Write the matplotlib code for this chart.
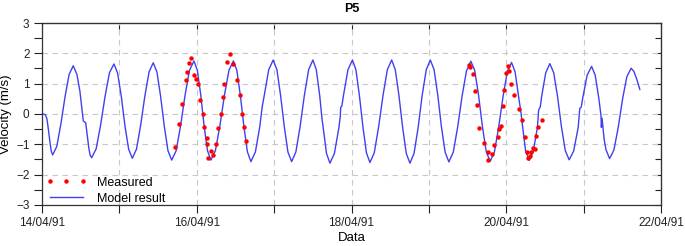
import matplotlib
matplotlib.use("Agg")
import matplotlib.pyplot as plt
import matplotlib.dates as mdates
from matplotlib.ticker import FixedLocator, MultipleLocator, NullFormatter
from datetime import datetime

plt.rcParams['font.family'] = ['Liberation Sans', 'DejaVu Sans']

# time in days after 14/04/91 00:00, velocity in m/s
model_days = [
    0.017, 0.045, 0.064, 0.082, 0.101, 0.119, 0.138,
    0.191, 0.244, 0.298, 0.351, 0.404,
    0.452, 0.490, 0.526, 0.534, 0.565, 0.585, 0.605, 0.622, 0.642,
    0.700, 0.757, 0.815, 0.872, 0.930,
    0.977, 1.025, 1.072, 1.120, 1.167,
    1.221, 1.275, 1.330, 1.384, 1.438,
    1.486, 1.533, 1.581, 1.628, 1.676,
    1.734, 1.791, 1.849, 1.906, 1.964,
    2.008, 2.052, 2.095, 2.139, 2.183,
    2.241, 2.299, 2.358, 2.416, 2.474,
    2.519, 2.564, 2.610, 2.655, 2.700,
    2.758, 2.815, 2.840, 2.846, 2.873, 2.930, 2.988,
    3.036, 3.083, 3.131, 3.178, 3.226,
    3.281, 3.336, 3.391, 3.446, 3.501,
    3.545, 3.589, 3.620, 3.627, 3.677, 3.721,
    3.779, 3.837, 3.855, 3.860, 3.875, 3.896, 3.954, 4.012,
    4.057, 4.102, 4.148, 4.193, 4.238,
    4.294, 4.350, 4.407, 4.463, 4.519,
    4.566, 4.613, 4.661, 4.708, 4.755,
    4.808, 4.861, 4.913, 4.966, 5.019,
    5.067, 5.115, 5.162, 5.210, 5.258,
    5.315, 5.372, 5.429, 5.486, 5.543,
    5.593, 5.643, 5.692, 5.742, 5.792,
    5.847, 5.902, 5.958, 6.013, 6.068,
    6.114, 6.159, 6.190, 6.198, 6.250, 6.296,
    6.349, 6.403, 6.418, 6.440, 6.456, 6.510, 6.563,
    6.613, 6.663, 6.713, 6.763, 6.813,
    6.871, 6.929, 6.950, 6.968, 6.987, 7.045, 7.103,
    7.149, 7.196, 7.224, 7.229, 7.238, 7.265, 7.289, 7.335,
    7.391, 7.447, 7.502, 7.558, 7.614,
    7.650, 7.690, 7.726,
]
model_vel = [
    0.00, -0.03, -0.16, -0.49, -0.89, -1.22, -1.35,
    -1.07, -0.33, 0.57, 1.31, 1.59,
    1.30, 0.75, -0.03, -0.23, -0.29, -0.70, -1.12, -1.36, -1.44,
    -1.15, -0.37, 0.58, 1.36, 1.65,
    1.35, 0.58, -0.39, -1.16, -1.46,
    -1.16, -0.37, 0.60, 1.39, 1.69,
    1.38, 0.58, -0.41, -1.21, -1.52,
    -1.21, -0.39, 0.62, 1.44, 1.75,
    1.44, 0.62, -0.39, -1.21, -1.52,
    -1.21, -0.39, 0.62, 1.44, 1.75,
    1.43, 0.60, -0.42, -1.25, -1.57,
    -1.25, -0.41, 0.10, 0.24, 0.62, 1.46, 1.78,
    1.46, 0.62, -0.41, -1.25, -1.57,
    -1.25, -0.41, 0.62, 1.46, 1.78,
    1.46, 0.61, -0.20, -0.31, -1.30, -1.62,
    -1.30, -0.45, -0.08, 0.22, 0.26, 0.61, 1.46, 1.78,
    1.46, 0.61, -0.43, -1.28, -1.60,
    -1.28, -0.43, 0.61, 1.46, 1.78,
    1.46, 0.61, -0.45, -1.30, -1.62,
    -1.30, -0.45, 0.61, 1.46, 1.78,
    1.46, 0.62, -0.42, -1.26, -1.58,
    -1.26, -0.43, 0.59, 1.42, 1.74,
    1.43, 0.60, -0.42, -1.25, -1.56,
    -1.25, -0.43, 0.57, 1.39, 1.70,
    1.39, 0.58, 0.05, -0.14, -1.22, -1.53,
    -1.23, -0.43, 0.12, 0.24, 0.56, 1.36, 1.66,
    1.36, 0.57, -0.42, -1.21, -1.51,
    -1.22, -0.45, 0.18, 0.22, 0.51, 1.28, 1.57,
    1.28, 0.52, -0.05, -0.44, -0.14, -0.84, -1.18, -1.47,
    -1.19, -0.44, 0.48, 1.23, 1.51,
    1.40, 1.12, 0.81,
]

meas_days = [
    1.718, 1.774, 1.809, 1.860, 1.880, 1.899, 1.932, 1.968, 1.990, 2.012,
    2.045, 2.076, 2.099, 2.132, 2.138, 2.151, 2.180, 2.216, 2.244, 2.276,
    2.313, 2.339, 2.354, 2.397, 2.429, 2.468, 2.519, 2.556, 2.587, 2.612, 2.638,
    5.517, 5.530, 5.565, 5.594, 5.624, 5.650, 5.714, 5.758, 5.766, 5.810,
    5.844, 5.895, 5.911, 5.937, 5.952, 5.972, 5.991, 6.018, 6.034, 6.063,
    6.098, 6.167, 6.205, 6.238, 6.272, 6.286, 6.301, 6.320, 6.350, 6.372,
    6.389, 6.406, 6.456,
]
meas_vel = [
    -1.08, -0.32, 0.32, 1.12, 1.37, 1.68, 1.84, 1.30, 1.14, 1.00,
    0.45, 0.00, -0.42, -0.78, -0.99, -1.45, -1.22, -1.35, -0.99, -0.47,
    -0.01, 0.57, 1.00, 1.70, 1.98, 1.64, 1.12, 0.62, 0.00, -0.44, -0.88,
    1.62, 1.56, 1.31, 0.76, 0.30, -0.46, -0.95, -1.24, -1.52, -1.31,
    -1.01, -0.77, -0.48, -0.41, 0.28, 0.79, 1.34, 1.59, 1.43, 0.98,
    0.63, 0.16, -0.21, -0.76, -1.24, -1.45, -1.40, -1.24, -1.13, -1.15,
    -0.72, -0.42, -0.19,
]

tick_dates = ['14/04/91', '15/04/91', '16/04/91', '17/04/91', '18/04/91',
              '19/04/91', '20/04/91', '21/04/91', '22/04/91']

t0 = mdates.date2num(datetime(1991, 4, 14))
xm = [t0 + d for d in model_days]
xs = [t0 + d for d in meas_days]
xt = [mdates.date2num(datetime.strptime(s, '%d/%m/%y')) for s in tick_dates]
xlabels = [s if i % 2 == 0 else '' for i, s in enumerate(tick_dates)]

fig = plt.figure(figsize=(6.85, 2.46), dpi=100)
ax = fig.add_axes([0.0613, 0.1667, 0.9037, 0.7398])

ax.plot(xm, model_vel, color='#4040f0', lw=1.0, label='Model result', zorder=3)
ax.plot(xs, meas_vel, ls='none', marker='o', ms=3.2, color='#ff0000',
        mec='none', label='Measured', zorder=4)

ax.set_xlim(xt[0], xt[-1])
ax.set_ylim(-3, 3)
ax.xaxis.set_major_locator(FixedLocator(xt))
ax.set_xticklabels(xlabels)
ax.yaxis.set_major_locator(MultipleLocator(1))
ax.yaxis.set_minor_locator(MultipleLocator(0.5))

ax.grid(True, which='major', ls=(0, (5, 4)), color='#c8c8c8', lw=0.8)
ax.set_axisbelow(True)

ax.tick_params(axis='both', which='both', direction='out', length=6,
               width=0.8, labelsize=8.5, colors='#222222', pad=3)
for s in ax.spines.values():
    s.set_color('#333333')
    s.set_linewidth(0.9)

# inward ticks on the top and right sides
top = ax.secondary_xaxis('top')
top.xaxis.set_major_locator(FixedLocator(xt))
top.xaxis.set_major_formatter(NullFormatter())
top.tick_params(direction='in', length=4, width=0.8, colors='#222222')
right = ax.secondary_yaxis('right')
right.yaxis.set_major_locator(MultipleLocator(0.5))
right.yaxis.set_major_formatter(NullFormatter())
right.tick_params(direction='in', length=4, width=0.8, colors='#222222')

ax.set_title('P5', fontsize=9, fontweight='bold', pad=8)
ax.set_xlabel('Data', fontsize=9.5, labelpad=2)
ax.set_ylabel('Velocity (m/s)', fontsize=9.5, labelpad=3)

h, l = ax.get_legend_handles_labels()
ax.legend([h[1], h[0]], [l[1], l[0]], loc='lower left', frameon=False,
          fontsize=9, numpoints=3, handlelength=3.3, handletextpad=0.8,
          borderaxespad=0.0, labelspacing=0.3, bbox_to_anchor=(-0.002, -0.025))

fig.savefig('out.png', dpi=100)
